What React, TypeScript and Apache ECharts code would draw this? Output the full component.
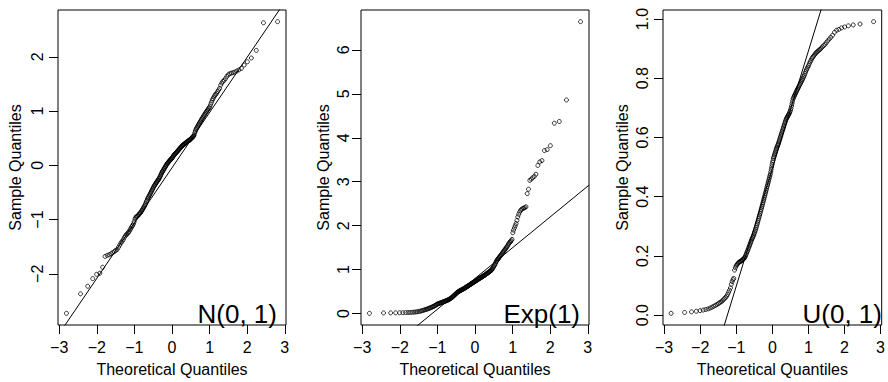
import React, { useEffect, useRef } from "react";
import * as echarts from "echarts";

// ---- data ----
const panelLabels = ["N(0, 1)", "Exp(1)", "U(0, 1)"];
const xTickValues = [-3, -2, -1, 0, 1, 2, 3];
const yTicksNorm = [-2, -1, 0, 1, 2];
const yTicksExp = [0, 1, 2, 3, 4, 5, 6];
const yTicksUnif = [0, 0.2, 0.4, 0.6, 0.8, 1.0];

// sorted sample values (n = 200 each)
const normSample = [
  -2.73, -2.37, -2.23, -2.09, -2.01, -1.99, -1.88, -1.68, -1.66, -1.65,
  -1.63, -1.61, -1.59, -1.57, -1.55, -1.51, -1.47, -1.43, -1.40, -1.37,
  -1.33, -1.30, -1.28, -1.26, -1.24, -1.22, -1.19, -1.16, -1.13, -1.11,
  -1.08, -1.04, -0.99, -0.96, -0.95, -0.94, -0.93, -0.91, -0.90, -0.88,
  -0.87, -0.85, -0.83, -0.81, -0.79, -0.77, -0.75, -0.73, -0.70, -0.67,
  -0.65, -0.62, -0.60, -0.58, -0.56, -0.54, -0.52, -0.50, -0.48, -0.46,
  -0.44, -0.42, -0.40, -0.38, -0.37, -0.35, -0.34, -0.32, -0.31, -0.29,
  -0.28, -0.27, -0.25, -0.24, -0.22, -0.20, -0.18, -0.16, -0.14, -0.12,
  -0.11, -0.09, -0.08, -0.06, -0.05, -0.03, -0.02, 0.00, 0.01, 0.03,
  0.04, 0.05, 0.06, 0.07, 0.08, 0.09, 0.10, 0.11, 0.12, 0.13,
  0.14, 0.15, 0.17, 0.18, 0.19, 0.20, 0.21, 0.22, 0.23, 0.24,
  0.25, 0.26, 0.27, 0.28, 0.29, 0.30, 0.31, 0.32, 0.33, 0.34,
  0.35, 0.36, 0.37, 0.38, 0.38, 0.39, 0.40, 0.41, 0.41, 0.42,
  0.43, 0.44, 0.44, 0.45, 0.46, 0.46, 0.47, 0.48, 0.49, 0.50,
  0.51, 0.52, 0.53, 0.54, 0.56, 0.60, 0.63, 0.66, 0.68, 0.70,
  0.72, 0.74, 0.76, 0.78, 0.80, 0.82, 0.84, 0.86, 0.88, 0.90,
  0.92, 0.94, 0.96, 0.98, 1.00, 1.02, 1.04, 1.06, 1.08, 1.12,
  1.16, 1.20, 1.23, 1.26, 1.29, 1.31, 1.33, 1.36, 1.39, 1.42,
  1.48, 1.52, 1.55, 1.57, 1.60, 1.64, 1.67, 1.69, 1.70, 1.71,
  1.72, 1.74, 1.76, 1.79, 1.85, 1.91, 1.98, 2.12, 2.63, 2.65,
];

const expSample = [
  0.007, 0.016, 0.017, 0.019, 0.020, 0.022, 0.024, 0.026, 0.028, 0.030,
  0.034, 0.038, 0.043, 0.049, 0.056, 0.064, 0.072, 0.081, 0.090, 0.099,
  0.106, 0.115, 0.124, 0.133, 0.142, 0.151, 0.160, 0.169, 0.180, 0.192,
  0.204, 0.215, 0.224, 0.230, 0.236, 0.242, 0.248, 0.254, 0.259, 0.265,
  0.270, 0.276, 0.282, 0.288, 0.294, 0.300, 0.306, 0.313, 0.320, 0.328,
  0.336, 0.345, 0.354, 0.364, 0.374, 0.385, 0.397, 0.409, 0.421, 0.433,
  0.445, 0.457, 0.468, 0.478, 0.487, 0.495, 0.503, 0.511, 0.518, 0.525,
  0.531, 0.537, 0.543, 0.549, 0.555, 0.561, 0.568, 0.575, 0.582, 0.589,
  0.596, 0.603, 0.610, 0.617, 0.624, 0.631, 0.638, 0.645, 0.652, 0.660,
  0.667, 0.674, 0.681, 0.688, 0.695, 0.702, 0.709, 0.716, 0.723, 0.730,
  0.737, 0.744, 0.751, 0.758, 0.765, 0.772, 0.779, 0.786, 0.793, 0.800,
  0.807, 0.814, 0.821, 0.828, 0.835, 0.842, 0.849, 0.856, 0.863, 0.870,
  0.878, 0.886, 0.894, 0.902, 0.910, 0.918, 0.926, 0.934, 0.942, 0.951,
  0.960, 0.969, 0.978, 0.988, 1.00, 1.02, 1.04, 1.06, 1.08, 1.10,
  1.12, 1.15, 1.18, 1.20, 1.22, 1.24, 1.25, 1.27, 1.29, 1.31,
  1.32, 1.34, 1.36, 1.38, 1.40, 1.42, 1.44, 1.46, 1.48, 1.50,
  1.52, 1.55, 1.58, 1.60, 1.62, 1.64, 1.66, 1.69, 1.84, 1.90,
  1.95, 2.00, 2.05, 2.12, 2.20, 2.26, 2.31, 2.35, 2.37, 2.39,
  2.40, 2.41, 2.43, 2.73, 2.83, 3.03, 3.06, 3.09, 3.12, 3.17,
  3.37, 3.45, 3.48, 3.71, 3.73, 3.82, 4.33, 4.37, 4.86, 6.64,
];

const unifSample = [
  0.006, 0.009, 0.011, 0.013, 0.015, 0.017, 0.019, 0.021, 0.024, 0.027,
  0.030, 0.033, 0.036, 0.039, 0.042, 0.045, 0.048, 0.052, 0.056, 0.060,
  0.064, 0.070, 0.077, 0.084, 0.092, 0.104, 0.113, 0.120, 0.124, 0.152,
  0.160, 0.166, 0.170, 0.173, 0.176, 0.178, 0.180, 0.181, 0.183, 0.184,
  0.186, 0.188, 0.190, 0.192, 0.195, 0.199, 0.204, 0.209, 0.214, 0.219,
  0.224, 0.229, 0.234, 0.239, 0.244, 0.249, 0.254, 0.258, 0.262, 0.266,
  0.270, 0.275, 0.280, 0.285, 0.290, 0.296, 0.302, 0.308, 0.314, 0.320,
  0.326, 0.332, 0.338, 0.344, 0.350, 0.356, 0.362, 0.368, 0.374, 0.380,
  0.386, 0.392, 0.398, 0.404, 0.410, 0.416, 0.422, 0.428, 0.434, 0.440,
  0.446, 0.452, 0.458, 0.464, 0.470, 0.476, 0.484, 0.492, 0.500, 0.508,
  0.516, 0.522, 0.530, 0.535, 0.540, 0.545, 0.550, 0.555, 0.560, 0.564,
  0.568, 0.572, 0.576, 0.580, 0.585, 0.590, 0.595, 0.600, 0.605, 0.610,
  0.615, 0.620, 0.625, 0.630, 0.635, 0.640, 0.645, 0.650, 0.655, 0.660,
  0.664, 0.667, 0.670, 0.673, 0.676, 0.679, 0.683, 0.687, 0.692, 0.698,
  0.706, 0.714, 0.722, 0.730, 0.735, 0.739, 0.743, 0.747, 0.751, 0.755,
  0.759, 0.763, 0.767, 0.771, 0.775, 0.779, 0.783, 0.787, 0.791, 0.795,
  0.800, 0.805, 0.810, 0.816, 0.822, 0.828, 0.833, 0.838, 0.843, 0.849,
  0.855, 0.860, 0.866, 0.870, 0.874, 0.878, 0.882, 0.886, 0.889, 0.892,
  0.895, 0.898, 0.902, 0.906, 0.910, 0.914, 0.920, 0.926, 0.932, 0.938,
  0.945, 0.955, 0.962, 0.965, 0.970, 0.973, 0.977, 0.980, 0.983, 0.991,
];

// reference (qq) line for each panel: y = intercept + slope * x
const qqIntercept = [-0.045, 0.8, 0.495];
const qqSlope = [1.02, 0.7, 0.397];

// ---- layout ----
const GRID_LEFT = [58, 361, 663];
const GRID_WIDTH = 228;
const GRID_TOP = 10;
const GRID_HEIGHT = 319;
const Y_LABEL_MARGIN = [13, 10, 13];
const Y_NAME_GAP = [35, 30, 33];
const FONT = "'Liberation Sans', Arial, Helvetica, sans-serif";

// standard normal quantile (Acklam)
function qnorm(p: number): number {
  const a = [-3.969683028665376e1, 2.209460984245205e2, -2.759285104469687e2, 1.38357751867269e2, -3.066479806614716e1, 2.506628277459239];
  const b = [-5.447609879822406e1, 1.615858368580409e2, -1.556989798598866e2, 6.680131188771972e1, -1.328068155288572e1];
  const c = [-7.784894002430293e-3, -3.223964580411365e-1, -2.400758277161838, -2.549671348593813, 4.374664141464968, 2.938163982698783];
  const d = [7.784695709041462e-3, 3.224671290700398e-1, 2.445134137142996, 3.754408661907416];
  const plow = 0.02425;
  if (p < plow) {
    const q = Math.sqrt(-2 * Math.log(p));
    return (((((c[0] * q + c[1]) * q + c[2]) * q + c[3]) * q + c[4]) * q + c[5]) /
      ((((d[0] * q + d[1]) * q + d[2]) * q + d[3]) * q + 1);
  }
  if (p <= 1 - plow) {
    const q = p - 0.5;
    const r = q * q;
    return ((((((a[0] * r + a[1]) * r + a[2]) * r + a[3]) * r + a[4]) * r + a[5]) * q) /
      (((((b[0] * r + b[1]) * r + b[2]) * r + b[3]) * r + b[4]) * r + 1);
  }
  const q = Math.sqrt(-2 * Math.log(1 - p));
  return -(((((c[0] * q + c[1]) * q + c[2]) * q + c[3]) * q + c[4]) * q + c[5]) /
    ((((d[0] * q + d[1]) * q + d[2]) * q + d[3]) * q + 1);
}

function extend(vals: number[]): [number, number] {
  const mn = Math.min(...vals);
  const mx = Math.max(...vals);
  const pad = (mx - mn) * 0.04;
  return [mn - pad, mx + pad];
}

const minusFmt = (v: number) => (v < 0 ? "\u2212" + Math.abs(v) : String(v));

export default function App() {
  const ref = useRef<HTMLDivElement>(null);
  useEffect(() => {
    if (!ref.current) return;
    const chart = echarts.init(ref.current, undefined, { renderer: "svg" });
    const samples = [normSample, expSample, unifSample];
    const yTicks = [yTicksNorm, yTicksExp, yTicksUnif];
    const yFormatters = [minusFmt, minusFmt, (v: number) => v.toFixed(1)];

    const grids: any[] = [];
    const xAxes: any[] = [];
    const yAxes: any[] = [];
    const series: any[] = [];
    const graphics: any[] = [];

    samples.forEach((s, k) => {
      const n = s.length;
      const theo = s.map((_, i) => qnorm((i + 0.5) / n));
      const [xmin, xmax] = extend(theo);
      const [ymin, ymax] = extend(s);
      grids.push({
        left: GRID_LEFT[k],
        top: GRID_TOP,
        width: GRID_WIDTH,
        height: GRID_HEIGHT,
        show: true,
        borderColor: "#000",
        borderWidth: 1,
        backgroundColor: "transparent",
      });
      xAxes.push({
        type: "value",
        gridIndex: k,
        position: "bottom",
        min: xmin,
        max: xmax,
        axisLine: { show: false, onZero: false },
        splitLine: { show: false },
        axisTick: { show: true, inside: false, length: 9, lineStyle: { color: "#000", width: 1 }, customValues: xTickValues },
        axisLabel: { color: "#000", fontSize: 16, fontFamily: FONT, margin: 14, customValues: xTickValues, formatter: minusFmt },
        name: "Theoretical Quantiles",
        nameLocation: "middle",
        nameGap: 36,
        nameTextStyle: { color: "#000", fontSize: 16, fontFamily: FONT },
      });
      yAxes.push({
        type: "value",
        gridIndex: k,
        position: "left",
        min: ymin,
        max: ymax,
        axisLine: { show: false, onZero: false },
        splitLine: { show: false },
        axisTick: { show: true, inside: false, length: 9, lineStyle: { color: "#000", width: 1 }, customValues: yTicks[k] },
        axisLabel: { color: "#000", fontSize: 16, fontFamily: FONT, margin: Y_LABEL_MARGIN[k], rotate: 90, customValues: yTicks[k], formatter: yFormatters[k] },
        name: "Sample Quantiles",
        nameLocation: "middle",
        nameGap: Y_NAME_GAP[k],
        nameTextStyle: { color: "#000", fontSize: 16, fontFamily: FONT },
      });
      series.push({
        type: "scatter",
        xAxisIndex: k,
        yAxisIndex: k,
        symbol: "circle",
        symbolSize: 4,
        itemStyle: { color: "rgba(0,0,0,0)", borderColor: "#000", borderWidth: 1 },
        data: s.map((v, i) => [theo[i], v]),
        silent: true,
      });
      series.push({
        type: "line",
        xAxisIndex: k,
        yAxisIndex: k,
        showSymbol: false,
        clip: true,
        lineStyle: { color: "#000", width: 1 },
        data: [
          [xmin, qqIntercept[k] + qqSlope[k] * xmin],
          [xmax, qqIntercept[k] + qqSlope[k] * xmax],
        ],
        silent: true,
      });
      graphics.push({
        type: "text",
        x: GRID_LEFT[k] + GRID_WIDTH - 9,
        y: GRID_TOP + GRID_HEIGHT - 15,
        style: {
          text: panelLabels[k],
          fill: "#000",
          font: `26px ${FONT}`,
          textAlign: "right",
          textVerticalAlign: "middle",
        },
      });
    });

    chart.setOption({
      animation: false,
      backgroundColor: "#fff",
      grid: grids,
      xAxis: xAxes,
      yAxis: yAxes,
      series,
      graphic: graphics,
    });
    return () => chart.dispose();
  }, []);

  return (
    <div
      ref={ref}
      style={{ position: "absolute", left: 0, top: 0, width: 888, height: 382 }}
    />
  );
}
